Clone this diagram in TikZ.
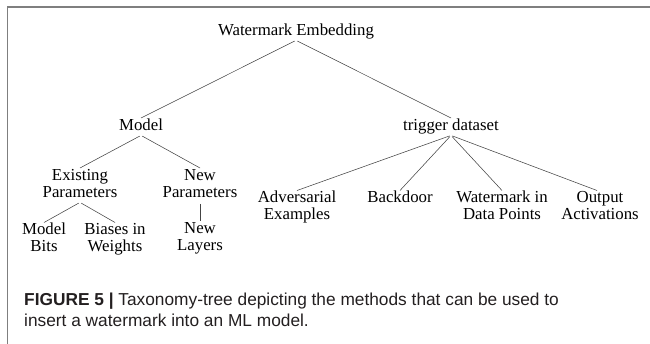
\documentclass[tikz,border=0pt]{standalone}
\usepackage{fontspec}
\setmainfont{Liberation Serif}
\newfontfamily\capfont{Liberation Sans}
\definecolor{framegray}{HTML}{7F7F7F}
\definecolor{edgegray}{HTML}{444444}
\definecolor{captext}{HTML}{231F20}
\begin{document}
\begin{tikzpicture}[x=1pt,y=-1pt,
  lbl/.style={anchor=north, inner sep=0pt, align=center, font=\fontsize{16.8}{17}\selectfont},
  edge/.style={draw=edgegray, line width=0.55pt, shorten <=1.5pt},
  frameline/.style={draw=framegray, line width=1.5pt},
  captionstyle/.style={anchor=north west, inner sep=0pt, align=left, text=captext,
     font=\capfont\fontsize{17.3}{21}\selectfont}]
\useasboundingbox (0,0) rectangle (650,344);
% frame (top and left edges)
\coordinate (fl) at (7.5,344);
\coordinate (fc) at (7.5,7);
\coordinate (fr) at (650,7);
\draw[frameline] (fl) -- (fc) -- (fr);

% nodes
\node[lbl] (root) at (296,23) {\strut Watermark Embedding};
\node[lbl] (model) at (141,118) {\strut Model};
\node[lbl] (trig) at (451,118) {\strut trigger dataset};
\node[lbl] (exist) at (80,168) {\strut Existing\\\strut Parameters};
\node[lbl] (newp) at (200,168) {\strut New\\\strut Parameters};
\node[lbl] (bits) at (44,222.5) {\strut Model\\\strut Bits};
\node[lbl] (bias) at (115,222.5) {\strut Biases in\\\strut Weights};
\node[lbl] (layers) at (200,221.5) {\strut New\\\strut Layers};
\node[lbl] (adv) at (297,190.5) {\strut Adversarial\\\strut Examples};
\node[lbl] (back) at (400,190.5) {\strut Backdoor};
\node[lbl] (wmdp) at (502,190.5) {\strut Watermark in\\\strut Data Points};
\node[lbl] (outp) at (600,190.5) {\strut Output\\\strut Activations};

% edges
\draw[edge] (root.south) -- (model.north);
\draw[edge] (root.south) -- (trig.north);
\draw[edge] (model.south) -- (exist.north);
\draw[edge] (model.south) -- (newp.north);
\draw[edge] (exist.south) -- (bits.north);
\draw[edge] (exist.south) -- (bias.north);
\draw[edge] (newp.south) -- (layers.north);
\draw[edge] (trig.south) -- (adv.north);
\draw[edge] (trig.south) -- (back.north);
\draw[edge] (trig.south) -- (wmdp.north);
\draw[edge] (trig.south) -- ([xshift=-3pt]outp.north);

% caption
\node[captionstyle] (cap) at (24,290.3) {\strut{\bfseries FIGURE 5 |} Taxonomy-tree depicting the methods that can be used to\\\strut insert a watermark into an ML model.};
\end{tikzpicture}
\end{document}
